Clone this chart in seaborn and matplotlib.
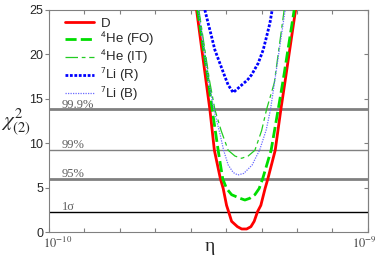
import numpy as np
import pandas as pd
import matplotlib
matplotlib.use("Agg")
import matplotlib.pyplot as plt
import seaborn as sns

# eta in units of 1e-10, chi^2
eta_D = [5.167, 5.44, 5.542, 5.669, 5.839, 5.918, 6.013, 6.07, 6.155, 6.32, 6.44, 6.58, 6.70,
         6.792, 6.888, 6.98, 7.10, 7.179, 7.386, 7.545, 7.658, 7.96]
chi_D = [25, 16.8, 13.8, 9.2, 6.0, 4.9, 3.0, 2.3, 1.2, 0.6, 0.34, 0.34, 0.6,
         1.2, 2.3, 3.0, 4.9, 6.0, 9.2, 13.8, 16.8, 25]

eta_FO = [5.195, 5.494, 5.607, 5.776, 5.904, 6.013, 6.155, 6.39, 6.53, 6.67, 6.812, 6.933, 7.032, 7.27, 7.469, 7.61, 7.921]
chi_FO = [25, 17.1, 13.8, 9.2, 6.0, 4.9, 4.2, 3.8, 3.6, 3.8, 4.2, 4.9, 6.0, 9.2, 13.8, 17.1, 25]

eta_IT = [5.232, 5.53, 5.683, 5.861, 6.059, 6.25, 6.437, 6.62, 6.812, 7.001, 7.142, 7.36, 7.638]
chi_IT = [25, 17.1, 13.8, 11.4, 9.2, 8.55, 8.3, 8.55, 9.2, 11.4, 13.8, 16.8, 25]

eta_R = [5.401, 5.494, 5.59, 5.683, 5.824, 5.965, 6.059, 6.2, 6.342, 6.482, 6.60, 6.719, 6.905, 7.046, 7.142, 7.235, 7.3]
chi_R = [25, 23.5, 22.0, 20.5, 19.0, 17.5, 16.55, 15.7, 16.2, 16.7, 17.1, 17.7, 19.0, 20.5, 22.0, 23.5, 25]

eta_B = [5.218, 5.50, 5.655, 5.83, 5.93, 6.059, 6.2, 6.33, 6.5, 6.736, 6.84, 6.944, 7.132, 7.253, 7.376, 7.666]
chi_B = [25, 17.1, 13.8, 11.0, 9.2, 7.55, 6.7, 6.42, 6.6, 7.55, 8.4, 9.2, 11.5, 13.8, 17.1, 25]

cl_levels = [13.8, 9.21, 5.99, 2.30]
cl_labels = ["99.9%", "99%", "95%", "1σ"]
cl_colors = ["#808080", "#808080", "#808080", "#000000"]
cl_widths = [2.0, 1.0, 2.0, 1.0]

sns.set_style("ticks")
plt.rcParams["font.family"] = ["Liberation Sans", "DejaVu Sans"]
plt.rcParams["mathtext.fontset"] = "stix"

fig = plt.figure(figsize=(3.82, 2.62), dpi=100)
ax = fig.add_axes([0.128, 0.1145, 0.835, 0.8475])

for lev, c, w in zip(cl_levels, cl_colors, cl_widths):
    ax.axhline(lev, color=c, lw=w, zorder=1)

curves = [
    (eta_D, chi_D, "D", "#ff0000", 2.0, "-"),
    (eta_FO, chi_FO, r"$^\mathsf{4}$He (FO)", "#00dd00", 2.0, (0, (4, 1.5))),
    (eta_IT, chi_IT, r"$^\mathsf{4}$He (IT)", "#22cc22", 0.9, (0, (10, 3, 3, 3))),
    (eta_R, chi_R, r"$^\mathsf{7}$Li (R)", "#0000ff", 2.0, (0, (1, 0.6))),
    (eta_B, chi_B, r"$^\mathsf{7}$Li (B)", "#6a6aff", 0.9, (0, (1, 1))),
]
for x, y, lab, col, lw, ls in curves:
    df = pd.DataFrame({"eta": x, "chi2": y})
    sns.lineplot(data=df, x="eta", y="chi2", ax=ax, color=col, lw=lw,
                 linestyle=ls, label=lab, sort=False, zorder=3)

for lev, lab in zip(cl_levels, cl_labels):
    ax.text(1.37, lev + 0.2, lab, family=["Liberation Serif", "DejaVu Serif"],
            fontsize=9, color="#606060", va="baseline", ha="left")

ax.set_xlim(1, 10)
ax.set_ylim(0, 25)
ax.set_xticks(range(1, 11))
ax.set_xticklabels([])
ax.set_yticks(range(0, 26, 5))
ax.tick_params(axis="x", direction="in", top=True, length=3, color="#808080")
ax.tick_params(axis="y", direction="out", length=3, color="#808080", labelsize=9, pad=1)
secy = ax.secondary_yaxis("right")
secy.set_yticks(range(0, 26, 5))
secy.tick_params(direction="in", length=3, labelright=False, color="#808080")
secy.spines["right"].set_color("#808080")
for s in ax.spines.values():
    s.set_color("#808080")
    s.set_visible(True)
ax.set_xlabel("")
ax.set_ylabel("")

# end labels of the eta axis, slightly offset as in the original
for xv, lab, dx in [(1, "$10^{-10}$", 8.5), (10, "$10^{-9}$", -4)]:
    ax.annotate(lab, xy=(xv, 0), xycoords=("data", "axes fraction"),
                xytext=(dx, -4), textcoords="offset pixels",
                ha="center", va="top", fontsize=9, color="#444444")

fig.text(0.55, 0.06, "η", family=["Liberation Serif", "DejaVu Serif"],
         fontsize=14, ha="center", va="center")
fig.text(0.042, 0.535, r"$\chi^2_{(2)}$", fontsize=15, ha="center", va="center")

ax.legend(loc="upper left", bbox_to_anchor=(0.025, 1.0), frameon=False, fontsize=9.5,
          handlelength=2.2, handletextpad=0.5, labelspacing=0.0, borderaxespad=0.2)

fig.savefig("out.png", dpi=100)
